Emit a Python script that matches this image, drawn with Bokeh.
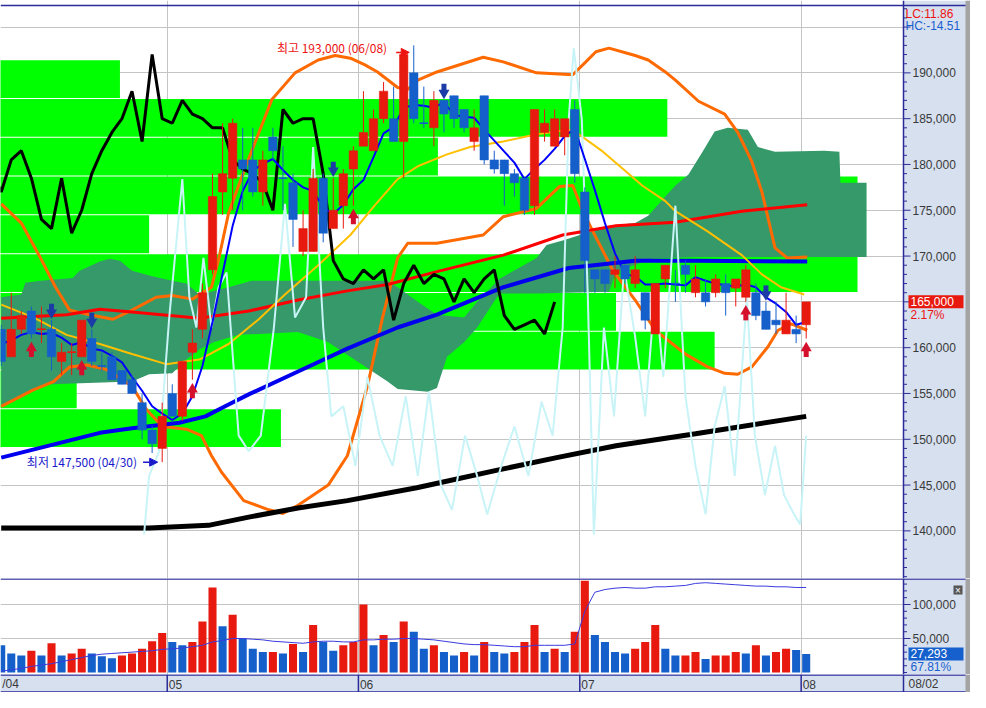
import pandas as pd
from bokeh.plotting import figure
from bokeh.layouts import column
from bokeh.models import Range1d, FixedTicker, Arrow, NormalHead, ColumnDataSource
from bokeh.embed import file_html
from bokeh.resources import INLINE
from bokeh.core.properties import value

# ---------------- data ----------------
dates = ["04/08","04/09","04/12","04/13","04/14","04/15","04/16","04/19","04/20","04/21","04/22","04/23","04/26","04/27","04/28","04/29","04/30",
         "05/03","05/04","05/06","05/07","05/10","05/11","05/12","05/13","05/14","05/17","05/18","05/20","05/21","05/24","05/25","05/26","05/27","05/28","05/31",
         "06/01","06/02","06/03","06/04","06/07","06/08","06/09","06/10","06/11","06/14","06/15","06/16","06/17","06/18","06/21","06/22","06/23","06/24","06/25","06/28","06/29","06/30",
         "07/01","07/02","07/05","07/06","07/07","07/08","07/09","07/12","07/13","07/14","07/15","07/16","07/19","07/20","07/21","07/22","07/23","07/26","07/27","07/28","07/29","07/30",
         "08/02"]
opens  = [162000,159000,162000,164000,162000,162000,158500,159500,159000,161000,158000,159000,157500,156500,154000,151000,149000,
          155000,152500,159500,162000,168500,177000,178500,180500,180500,177000,183000,178500,178000,170500,170500,178500,173000,175500,179500,
          182000,181500,185000,185000,182500,190000,184500,184000,187000,187500,186000,182500,187500,180500,180500,179000,178500,175500,183500,182000,183000,186000,
          177000,168500,168500,168000,169000,167000,166000,161500,167500,167000,169000,166000,166000,166000,167000,166500,165500,166000,164000,163000,161500,162000,
          162500]
highs  = [162500,166000,164000,164500,164500,163000,160500,160500,163000,162000,159500,159500,157500,157000,155000,151500,154000,
          156000,158500,162000,167000,179000,184500,185000,184000,184000,181500,184000,182000,179000,175000,179500,179000,178500,179500,182000,
          188000,186000,189000,188500,192000,193000,188500,188000,187000,187500,186000,186000,187500,181500,180500,179500,178500,186000,186000,186000,185000,187000,
          177500,168500,168500,170000,169000,170000,166000,167000,169000,168500,169500,169000,167500,168000,168000,167500,169000,167000,165000,165000,166000,163500,
          165000]
lows   = [158000,159000,161500,161000,160500,157500,157000,157000,159000,158000,157500,156500,156000,155000,150000,148500,147500,
          152500,152000,156500,161000,168000,174500,175000,175000,176500,175500,180500,175000,171000,170000,170500,171500,173000,173000,175500,
          182000,181500,184500,182500,178500,184500,184000,182000,183500,184000,183500,181500,180000,179000,175500,176500,174500,174500,182500,182000,181000,178000,
          166000,166000,166000,166500,167000,166500,162000,161500,166500,165000,166000,165500,164500,165500,163500,164500,165000,163000,162000,161500,161500,160500,
          161000]
closes = [158500,162000,163500,161500,162000,159000,159500,159500,163000,158500,158000,156500,156000,155000,151000,149500,152500,
          152500,158500,160500,166000,176500,179000,184500,179500,177000,180500,181500,178500,174000,173000,178500,172500,175000,179000,181500,
          183500,185000,188000,182500,192000,185000,184500,187000,185500,185000,184000,184000,180500,179500,179000,178000,175000,186000,184500,185000,185000,179000,
          169500,167500,167000,168500,167500,168500,163000,167000,169000,167000,168000,167500,165000,167500,166000,167500,168500,163500,162000,162500,163000,161500,
          165000]
volumes = [40000,28000,25000,32000,25000,43000,25000,28000,35000,28000,24000,21000,25000,28000,35000,46000,58000,
           45000,40000,45000,75000,125000,68000,85000,50000,35000,30000,30000,28000,42000,30000,70000,45000,32000,40000,45000,
           100000,40000,55000,45000,75000,60000,35000,40000,30000,25000,30000,25000,45000,30000,28000,30000,45000,70000,30000,35000,30000,60000,
           135000,55000,45000,30000,28000,35000,45000,70000,35000,25000,25000,30000,20000,25000,25000,30000,28000,40000,25000,30000,35000,33000,
           27293]
vol_ratio_last = 67.81
ma5_head = [160400, 160800, 161400, 161700]   # MA5 values before five closes are available

# moving averages / bands (x = trading-day index)
bb_up_x = [0,2.0,3.9,5.4,6.8,8.8,11.1,13.0,15.4,17.0,19.0,20.9,21.6,22.6,24.3,26.9,29.2,31.5,33.2,34.7,36.1,37.4,39.4,40.4,41.4,43.3,47.9,49.9,53.2,56.8,58.1,59.1,60.4,63.0,64.3,66.0,67.0,69.3,71.9,73.2,74.6,75.6,76.9,78.1,80.1]
bb_up   = [175700,173600,169800,166600,164100,163600,163100,164100,165500,165700,165300,166600,169600,174700,179800,187100,190000,191400,191900,191600,190900,190100,188400,188200,189200,190100,191700,191200,190000,189800,191200,192300,192700,191900,191400,190100,189200,186900,185500,183500,180300,177000,170900,169800,169900]
bb_dn_x = [0,3.2,5.2,6.8,8.5,10.5,13.0,14.4,16.0,18.4,19.9,20.9,21.9,24.1,26.6,28.0,29.5,32.5,34.4,36.4,37.9,39.4,40.4,43.3,47.9,49.9,53.2,55.5,56.8,57.8,58.8,60.8,63.0,65.0,68.0,70.2,71.9,73.2,74.6,76.2,77.2,78.5,80.1]
bb_dn   = [153600,155400,156300,157900,158100,157600,155800,153300,151400,151100,150400,148200,146400,143300,142300,141900,142800,145000,148200,155800,163300,169800,171400,171400,172300,174300,175200,177600,177700,174900,172700,168400,165200,161900,159300,157900,157200,157100,157900,160100,161900,162600,161900]
ma20_x = [0,3.2,6.5,9.8,13.0,16.4,19.7,22.6,25.6,28.2,31.5,34.7,37.1,39.4,41.4,44.3,46.6,49.9,53.2,56.4,57.4,59.8,61.8,63.7,66.0,67.0,70.2,73.6,75.6,77.5,79.8]
ma20   = [164700,163300,161400,160400,159300,158200,158700,160400,163100,165800,169000,172300,175500,178400,179800,181100,181900,182500,183300,183800,183300,181400,179500,177700,176000,174900,172700,170100,168000,166600,165800]
ma60_x = [0,6.5,9.8,13.0,19.7,24.6,29.5,34.4,38.4,43.3,49.9,55.8,61.1,67.0,73.6,80.1]
ma60   = [163200,163600,164200,163900,163200,164000,165200,166200,166900,168300,170100,172300,173300,173700,174900,175600]
ma120_x = [0,9.8,13.0,17.7,20.3,22.6,24.6,29.5,34.4,39.4,43.3,49.9,56.4,63.0,69.0,80.1]
ma120   = [148000,150700,151200,151800,152500,153800,154900,157400,159900,162200,163600,166600,168700,169500,169500,169400]
ma240_x = [0,14.7,20.6,24.6,29.5,34.4,41.3,49.2,55.2,61.1,69.0,80.0]
ma240   = [140300,140300,140600,141500,142500,143300,144700,146600,148000,149300,150600,152500]
chikou_shift = 25

cloud_top_x = [0,2.0,2.4,3.9,7.1,7.8,9.8,10.8,11.8,13.0,15.0,17.0,18.4,19.7,22.6,24.9,38.4,39.4,41.4,43.3,46.0,47.3,49.5,53.2,54.2,55.8,60.4,63.0,64.3,66.0,67.0,68.3,69.7,70.9,72.2,74.2,75.2,76.9,81.8,83.3,83.4,86.0]
cloud_top   = [165500,165800,167100,167300,167600,168400,169400,169700,169500,168400,167800,167300,167000,165800,166600,167300,167300,166600,165000,163600,163300,165000,167500,169800,171200,171700,173300,173600,174400,176500,177700,178900,181400,183600,184000,183800,181900,181400,181500,181400,178000,178000]
cloud_bot_x = [0,3.2,4.9,13.0,14.7,17.0,18.4,19.7,21.1,23.6,29.5,32.5,35.4,38.4,39.4,42.4,43.3,44.3,46.0,47.3,49.5,53.2,60.4,61.1,64.7,69.0,86.0]
cloud_bot   = [153600,155400,156000,156300,157100,157200,158700,159800,160600,161400,161700,160600,158500,156300,155500,155200,155600,159000,160600,162200,165900,165900,166100,168300,169700,169900,169900]

# volume profile (price bins from 149,100 upward, 4,233 each) : bar end (trading-day index)
vp_base = 149100
vp_step = 4233
vp_len = [27.8, 7.5, 70.9, 61.1, 85.1, 14.7, 85.1, 43.4, 66.2, 11.8]

# light oscillator (separate scale, drawn in price units as on the chart)
osc_x = [14.2,14.7,15.7,16.7,18.0,18.7,19.4,20.1,20.9,21.6,22.4,23.6,24.6,25.8,27.1,28.2,29.2,30.3,31.0,32.0,32.8,34.0,35.2,36.4,37.6,38.9,40.2,41.4,42.5,43.7,44.8,46.1,47.3,48.3,49.7,51.0,52.4,53.7,54.8,55.8,56.4,56.9,57.7,58.3,58.9,59.9,60.9,61.9,63.0,64.0,65.0,65.8,67.0,68.0,69.0,70.0,70.9,71.9,72.9,74.1,74.9,75.9,76.9,77.8,78.8,79.4,80.0]
osc   = [139600,146000,148700,163300,178400,165500,162200,169800,162200,166600,168200,150400,148700,150400,162200,175700,163300,165500,181900,162200,152500,153600,147100,156800,150400,147100,154700,146000,155200,145000,142300,150400,146000,141800,147100,151400,146000,154100,150400,162200,184900,192700,184900,165500,139600,162200,152500,168700,161200,152500,166600,156800,175500,154700,147100,141800,151400,155800,146000,165500,150400,143900,149300,143900,141800,140700,150400]

vol_ma = [2000,4000,6000,9000,11000,13000,16000,19000,22000,25000,27000,28000,29000,30000,31000,32000,34000,
          35000,36000,38000,40000,45000,47000,50000,50000,49000,48000,46000,45000,44000,43000,45000,46000,46000,45000,45000,
          48000,48000,49000,49000,50000,50000,49000,48000,46000,44000,42000,41000,41000,40000,39000,38000,38000,40000,40000,40000,40000,42000,
          90000,118000,122000,124000,125000,124000,124000,126000,126000,127000,128000,131000,132000,131000,130000,129000,128000,127000,127000,126000,126000,125000,
          125000]

buy_idx = [3, 8, 19, 35, 74, 80]
sell_idx = [5, 9, 33, 44, 76]
month_labels = ["/04", "05", "06", "07", "08"]
price_ticks = list(range(140000, 196000, 5000))
price_labels = list(range(140000, 191000, 5000))
vol_ticks = [50000, 100000]
lc_text = "LC:11.86"
hc_text = "HC:-14.51"

# ---------------- styling ----------------
PPU = 903 / 89.74            # pixels per trading day
X0 = -0.07
XA = X0 + 903 / PPU          # right axis position
XS = XA + 62 / PPU           # start of grey strip
XE = X0 + 970 / PPU          # right end
FW = 970
FH = 578
YR = (134800, 197900)
RED = "#e8190e"
BLUE = "#155fcb"
PANEL = "#d6e0ef"
NAVY = "#2b2b9a"
GRID = "#c4c4c4"
AX_FONT = "Liberation Sans"
KFONT = "Noto Sans CJK KR"
TXT = "#3a3a3a"

n = len(closes)
idx = list(range(n))
up = []
for i in range(n):
    if closes[i] > opens[i]:
        up.append(True)
    elif closes[i] < opens[i]:
        up.append(False)
    else:
        up.append(i == 0 or closes[i] >= closes[i - 1])
colors = [RED if u else BLUE for u in up]
vcolors = [BLUE if i == 0 or volumes[i] < volumes[i - 1] else RED for i in idx]
cl = pd.Series(closes, dtype=float)
ma5 = cl.rolling(5).mean().tolist()
ma5[:4] = ma5_head

bounds = [i - 0.5 for i in range(1, n) if dates[i][:2] != dates[i - 1][:2]]


def base_fig(h, yr):
    f = figure(frame_width=FW, frame_height=h, x_range=Range1d(X0, XE), y_range=Range1d(*yr),
               output_backend="svg", toolbar_location=None, y_axis_location=None,
               x_axis_location=None, min_border_left=0, min_border_top=0,
               min_border_bottom=0, min_border_right=0)
    f.border_fill_color = "white"
    f.background_fill_color = "white"
    f.outline_line_color = None
    f.xgrid.ticker = FixedTicker(ticks=bounds)
    f.xgrid.grid_line_color = GRID
    f.ygrid.grid_line_color = GRID
    return f


def right_axis(f, yr, h, ticks, minor, labels):
    upx = (yr[1] - yr[0]) / h
    f.quad(left=[XA], right=[XE], bottom=[yr[0]], top=[yr[1]], fill_color=PANEL, line_color=None)
    f.quad(left=[XS], right=[XE], bottom=[yr[0]], top=[yr[1]], fill_color="#a4a4a4", line_color=None)
    f.segment(x0=[XA], y0=[yr[0]], x1=[XA], y1=[yr[1]], line_color=NAVY, line_width=1.5)
    mt = [m for m in minor if m not in ticks]
    f.segment(x0=[XA] * len(mt), y0=mt, x1=[XA + 3.5 / PPU] * len(mt), y1=mt, line_color=NAVY, line_width=1)
    f.segment(x0=[XA] * len(ticks), y0=ticks, x1=[XA + 7 / PPU] * len(ticks), y1=ticks, line_color=NAVY, line_width=1)
    f.text(x=[XA + 9 / PPU] * len(labels), y=labels, text=[f"{t:,}" for t in labels], text_font=value(AX_FONT),
           text_font_size="12px", text_color=TXT, text_baseline="middle")
    return upx


# ---------------- main price panel ----------------
p = base_fig(FH, YR)
p.ygrid.ticker = FixedTicker(ticks=price_ticks)

gap = 110
vp_bottom = [vp_base + k * vp_step + gap / 2 for k in range(len(vp_len))]
vp_top = [vp_base + (k + 1) * vp_step - gap / 2 for k in range(len(vp_len))]
p.quad(left=[X0 - 1] * len(vp_len), right=vp_len, bottom=vp_bottom, top=vp_top,
       fill_color="#00ff00", line_color=None)

cx = cloud_top_x + cloud_bot_x[::-1]
cy = cloud_top + cloud_bot[::-1]
p.patch(cx, cy, fill_color="#36996a", line_color=None)

p.line(bb_up_x, bb_up, line_color="#ff6a00", line_width=3)
p.line(bb_dn_x, bb_dn, line_color="#ff6a00", line_width=3)
p.line(ma240_x, ma240, line_color="black", line_width=5)
p.line(ma120_x, ma120, line_color="#0000ee", line_width=4)
p.line(ma60_x, ma60, line_color="#ff0000", line_width=3)
p.line(ma20_x, ma20, line_color="#ffc000", line_width=2)
p.line([i - chikou_shift for i in idx], closes, line_color="black", line_width=3)
p.line(osc_x, osc, line_color="#c8f4f8", line_width=2)
p.line(idx, ma5, line_color="#0000ff", line_width=2)

src = ColumnDataSource(dict(x=idx, o=opens, h=highs, l=lows, c=closes,
                            top=[max(a, b) for a, b in zip(opens, closes)],
                            bot=[min(a, b) for a, b in zip(opens, closes)], col=colors))
p.segment(x0="x", y0="l", x1="x", y1="h", color="col", line_width=1, source=src)
p.vbar(x="x", width=0.84, top="top", bottom="bot", fill_color="col", line_color="col", line_width=0.5, source=src)
doji = [i for i in idx if opens[i] == closes[i]]
p.segment(x0=[i - 0.42 for i in doji], y0=[closes[i] for i in doji], x1=[i + 0.42 for i in doji],
          y1=[closes[i] for i in doji], color=[colors[i] for i in doji], line_width=1.5)

ppx = (YR[1] - YR[0]) / FH  # price per pixel
bx = buy_idx
p.rect(x=bx, y=[lows[i] - 15 * ppx for i in bx], width=5, height=7, width_units="screen", height_units="screen",
       fill_color="#d4102c", line_color=None)
p.scatter(x=bx, y=[lows[i] - 9.5 * ppx for i in bx], marker="triangle", size=11, fill_color="#d4102c", line_color=None)
sx = sell_idx
p.rect(x=sx, y=[highs[i] + 13 * ppx for i in sx], width=5, height=7, width_units="screen", height_units="screen",
       fill_color="#1b3ca6", line_color=None)
p.scatter(x=sx, y=[highs[i] + 7.5 * ppx for i in sx], marker="inverted_triangle", size=11, fill_color="#1b3ca6", line_color=None)

hi_i = max(idx, key=lambda i: highs[i])
lo_i = min(idx, key=lambda i: lows[i])
p.text(x=[hi_i - 2.65], y=[highs[hi_i] - 2 * ppx], text=[f"최고 {highs[hi_i]:,} ({dates[hi_i]})"],
       text_font=value(KFONT), text_font_size="12px", text_color="#ee1111", text_align="right", text_baseline="middle")
p.add_layout(Arrow(end=NormalHead(size=8, fill_color="#ee1111", line_color="#ee1111"),
                   x_start=hi_i - 1.75, y_start=highs[hi_i] - 7 * ppx, x_end=hi_i - 0.45, y_end=highs[hi_i] - 7 * ppx,
                   line_color="#ee1111", line_width=1.5))
p.text(x=[lo_i - 2.5], y=[lows[lo_i] + 1 * ppx], text=[f"최저 {lows[lo_i]:,} ({dates[lo_i]})"],
       text_font=value(KFONT), text_font_size="12px", text_color="#1a1acc", text_align="right", text_baseline="middle")
p.add_layout(Arrow(end=NormalHead(size=8, fill_color="#1a1acc", line_color="#1a1acc"),
                   x_start=lo_i - 1.9, y_start=lows[lo_i], x_end=lo_i - 0.45, y_end=lows[lo_i],
                   line_color="#1a1acc", line_width=1.5))

right_axis(p, YR, FH, price_ticks, list(range(135000, 198000, 1000)), price_labels)
p.segment(x0=[X0], y0=[YR[1] - 5 * ppx], x1=[XS], y1=[YR[1] - 5 * ppx], line_color=NAVY, line_width=1.5)
p.text(x=[XA + 2 / PPU], y=[YR[1] - 13 * ppx], text=[lc_text], text_font=value(AX_FONT), text_font_size="12px",
       text_color="#ee1111", text_baseline="middle")
p.text(x=[XA + 2 / PPU], y=[YR[1] - 25 * ppx], text=[hc_text], text_font=value(AX_FONT), text_font_size="12px",
       text_color="#1a5fd0", text_baseline="middle")
last = closes[-1]
chg = (closes[-1] / closes[-2] - 1) * 100
p.quad(left=[XA + 5 / PPU], right=[XS - 2 / PPU], bottom=[last - 6.5 * ppx], top=[last + 6.5 * ppx],
       fill_color="#e8190e", line_color=None)
p.text(x=[XA + 7 / PPU], y=[last], text=[f"{last:,}"], text_font=value(AX_FONT), text_font_size="12px",
       text_color="white", text_baseline="middle")
p.text(x=[XA + 7 / PPU], y=[last - 13 * ppx], text=[f"{chg:.2f}%"], text_font=value(AX_FONT), text_font_size="12px",
       text_color="#ee1111", text_baseline="middle")

# ---------------- volume panel ----------------
VH = 96
VYR = (-2900, 138200)
v = base_fig(VH, VYR)
v.ygrid.ticker = FixedTicker(ticks=vol_ticks)
v.vbar(x=idx, width=0.8, top=volumes, bottom=0, fill_color=vcolors, line_color=None)
v.line(idx, vol_ma, line_color="#3a3adf", line_width=1)
vpx = right_axis(v, VYR, VH, vol_ticks, list(range(0, 140000, 10000)), vol_ticks)
v.segment(x0=[X0], y0=[VYR[1] - 0.5 * vpx], x1=[XS], y1=[VYR[1] - 0.5 * vpx], line_color=NAVY, line_width=1.5)
v.quad(left=[XS - 12 / PPU], right=[XS - 3 / PPU], bottom=[VYR[1] - 16 * vpx], top=[VYR[1] - 7 * vpx],
       fill_color="#555555", line_color=None)
v.text(x=[XS - 7.5 / PPU], y=[VYR[1] - 11.5 * vpx], text=["×"], text_font=value(AX_FONT), text_font_size="10px",
       text_color="white", text_align="center", text_baseline="middle")
lv = volumes[-1]
v.quad(left=[XA + 5 / PPU], right=[XS - 2 / PPU], bottom=[lv - 6.5 * vpx], top=[lv + 6.5 * vpx],
       fill_color="#1560cc", line_color=None)
v.text(x=[XA + 7 / PPU], y=[lv], text=[f"{lv:,}"], text_font=value(AX_FONT), text_font_size="12px",
       text_color="white", text_baseline="middle")
v.text(x=[XA + 7 / PPU], y=[lv - 13 * vpx], text=[f"{vol_ratio_last:.2f}%"], text_font=value(AX_FONT),
       text_font_size="12px", text_color="#1a5fd0", text_baseline="middle")

# ---------------- date strip ----------------
DH = 18
d = figure(frame_width=FW, frame_height=DH, x_range=Range1d(X0, XE), y_range=Range1d(0, 1),
           output_backend="svg", toolbar_location=None, x_axis_location=None, y_axis_location=None,
           min_border_left=0, min_border_top=0, min_border_bottom=0, min_border_right=0)
d.border_fill_color = PANEL
d.background_fill_color = PANEL
d.outline_line_color = None
d.grid.visible = False
d.quad(left=[XS], right=[XE], bottom=[0], top=[1], fill_color="#a4a4a4", line_color=None)
d.segment(x0=[X0, X0], y0=[0.97, 0.03], x1=[XS, XS], y1=[0.97, 0.03], line_color=NAVY, line_width=1.5)
d.segment(x0=bounds + [XA], y0=[0] * (len(bounds) + 1), x1=bounds + [XA], y1=[1] * (len(bounds) + 1),
          line_color=NAVY, line_width=1.5)
lab_x = [0.1] + [b + 0.15 for b in bounds]
d.text(x=lab_x, y=[0.45] * len(lab_x), text=month_labels, text_font=value(AX_FONT), text_font_size="12px",
       text_color=TXT, text_baseline="middle")
d.text(x=[XA + 5 / PPU], y=[0.45], text=[dates[-1]], text_font=value(AX_FONT), text_font_size="12px",
       text_color=TXT, text_baseline="middle")

lay = column(p, v, d, spacing=0)
open("out.html", "w").write(file_html(lay, INLINE))
